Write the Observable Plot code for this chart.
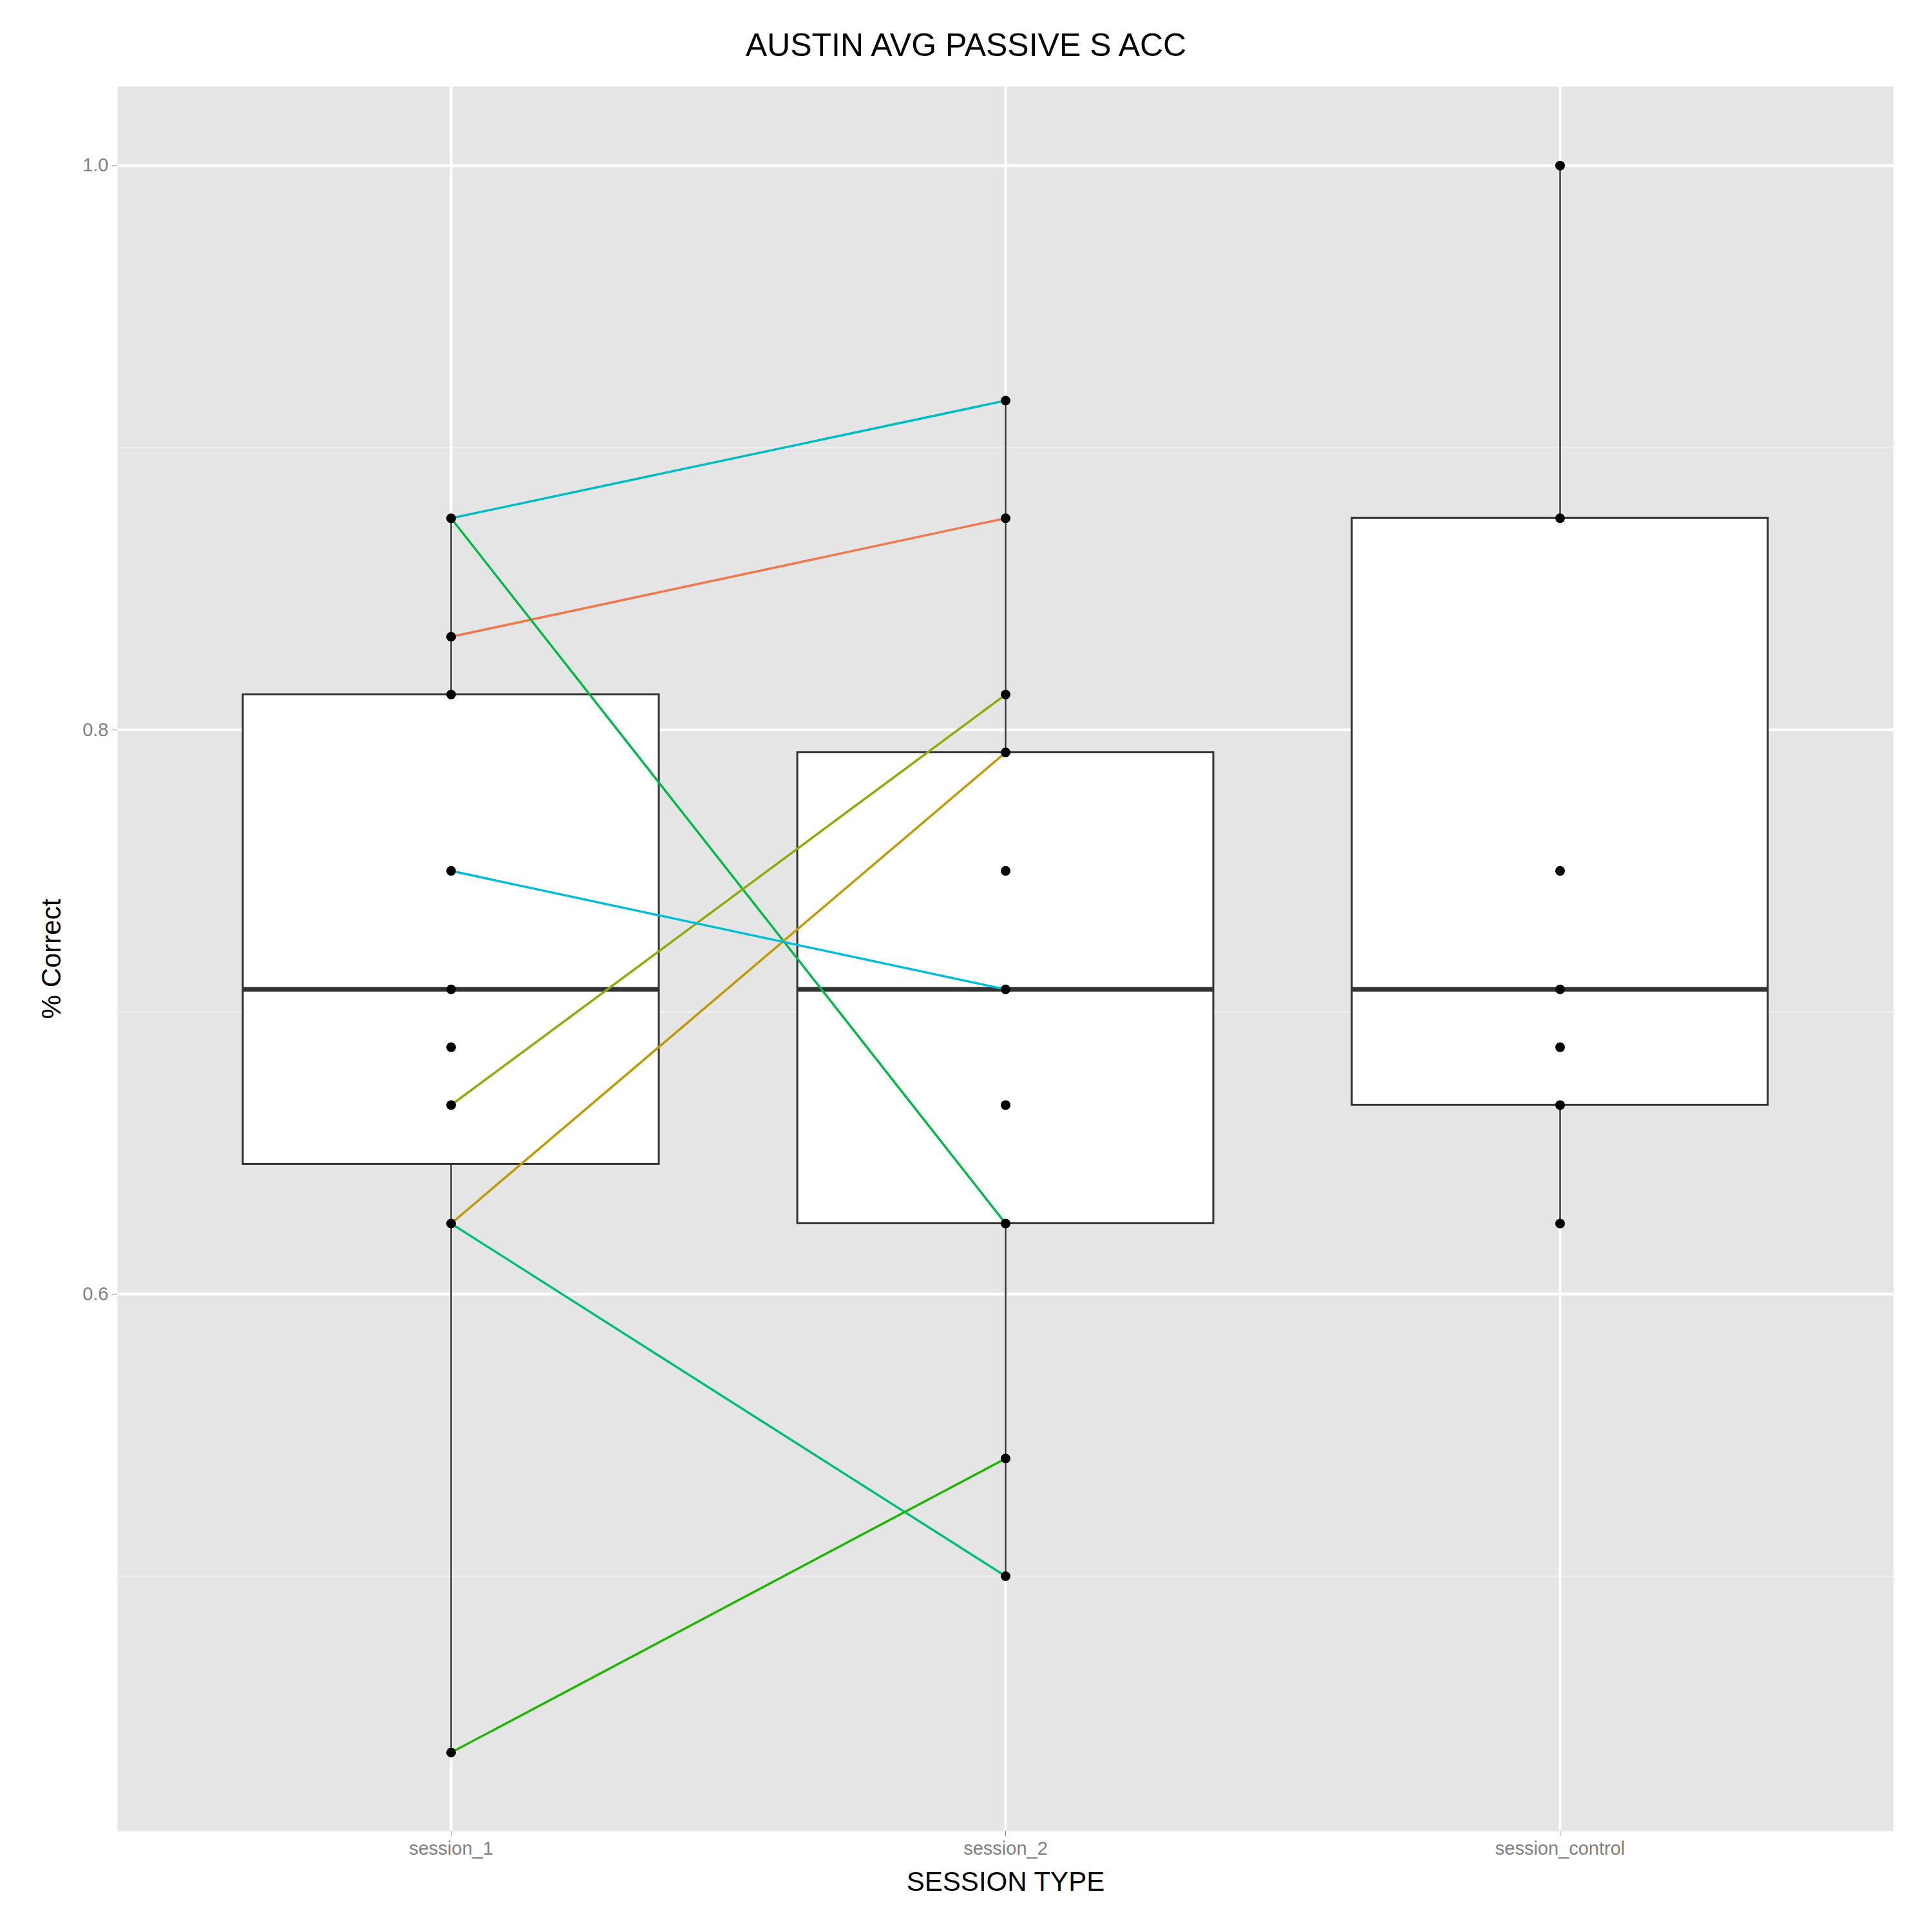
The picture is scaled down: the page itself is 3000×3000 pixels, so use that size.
<!DOCTYPE html>
<html>
<head>
<meta charset="utf-8">
<script src="https://cdn.jsdelivr.net/npm/d3@7"></script>
<script src="https://cdn.jsdelivr.net/npm/@observablehq/plot@0.6"></script>
<style>
  body { margin: 0; background: #fff; font-family: "Liberation Sans", Arial, sans-serif; }
  #title { height: 134px; width: 3000px; text-align: center; font-size: 50px; line-height: 200px; color: #000; }
  #title span { position: relative; top: -30px; }
</style>
</head>
<body>
<div id="title"><span>AUSTIN AVG PASSIVE S ACC</span></div>
<div id="chart"></div>
<script>
// sessions on the x axis
const sessions = ["session_1", "session_2", "session_control"];

// box stats per session
const boxLow = [0.4375, 0.5, 0.625];
const boxQ1 = [0.646, 0.625, 0.667];
const boxMedian = [0.708, 0.708, 0.708];
const boxQ3 = [0.8125, 0.792, 0.875];
const boxHigh = [0.875, 0.9167, 1.0];

// observed points per session
const pts1 = [0.875, 0.833, 0.8125, 0.75, 0.708, 0.6875, 0.667, 0.625, 0.4375];
const pts2 = [0.9167, 0.875, 0.8125, 0.792, 0.75, 0.708, 0.667, 0.625, 0.5417, 0.5];
const ptsC = [1.0, 0.875, 0.75, 0.708, 0.6875, 0.667, 0.625];

// subject lines session_1 -> session_2
const subjS1 = [0.875, 0.833, 0.875, 0.667, 0.625, 0.75, 0.625, 0.4375];
const subjS2 = [0.9167, 0.875, 0.625, 0.8125, 0.792, 0.708, 0.5, 0.5417];
const subjColors = ["#00BDC2", "#F2784B", "#00BA48", "#8FAA00", "#BF9B00", "#00BDD8", "#00BF7A", "#1DB700"];

const majorTicks = [0.6, 0.8, 1.0];
const minorTicks = [0.5, 0.7, 0.9];

const boxes = sessions.map((s, i) => ({s, low: boxLow[i], q1: boxQ1[i], med: boxMedian[i], q3: boxQ3[i], high: boxHigh[i]}));
const points = [
  ...pts1.map(v => ({s: sessions[0], v})),
  ...pts2.map(v => ({s: sessions[1], v})),
  ...ptsC.map(v => ({s: sessions[2], v}))
];
const lines = subjS1.flatMap((v, i) => [
  {id: i, s: sessions[0], v, c: subjColors[i]},
  {id: i, s: sessions[1], v: subjS2[i], c: subjColors[i]}
]);

const plot = Plot.plot({
  width: 3000,
  height: 2866,
  marginTop: 0,
  marginLeft: 182,
  marginRight: 60,
  marginBottom: 157,
  style: {fontFamily: "Liberation Sans, Arial, sans-serif", fontSize: "29px", background: "#fff"},
  x: {type: "band", domain: sessions, paddingInner: 0.25, paddingOuter: 0.225, label: null},
  y: {domain: [0.4096, 1.028], label: null},
  marks: [
    Plot.frame({fill: "#E5E5E5", stroke: null}),
    Plot.ruleY(minorTicks, {stroke: "#F2F2F2", strokeWidth: 2}),
    Plot.ruleY(majorTicks, {stroke: "#fff", strokeWidth: 4}),
    Plot.ruleX(sessions, {stroke: "#fff", strokeWidth: 4}),
    Plot.ruleX(boxes, {x: "s", y1: "low", y2: "high", stroke: "#333", strokeWidth: 2.5}),
    Plot.barY(boxes, {x: "s", y1: "q1", y2: "q3", fill: "#fff", stroke: "#333", strokeWidth: 3}),
    Plot.tickY(boxes, {x: "s", y: "med", stroke: "#333", strokeWidth: 7}),
    Plot.line(lines, {x: "s", y: "v", z: "id", stroke: "c", strokeWidth: 3.5}),
    Plot.dot(points, {x: "s", y: "v", r: 7.5, fill: "#000"}),
    Plot.axisY(majorTicks, {tickFormat: ".1f", tickSize: 8, stroke: "#7F7F7F", fill: "#7F7F7F", fontSize: 29, tickPadding: 6,
      label: "% Correct", labelAnchor: "center", labelArrow: false, labelOffset: 118}),
    Plot.axisX({tickSize: 8, stroke: "#7F7F7F", fill: "#7F7F7F", fontSize: 29, tickPadding: 8,
      label: "SESSION TYPE", labelAnchor: "center", labelArrow: false, labelOffset: 92})
  ]
});
document.getElementById("chart").appendChild(plot);
// axis titles in black and larger
plot.querySelectorAll("[aria-label='y-axis label'] text, [aria-label='x-axis label'] text").forEach(t => {
  t.setAttribute("fill", "#000");
  t.style.fontSize = "42px";
});
</script>
</body>
</html>
